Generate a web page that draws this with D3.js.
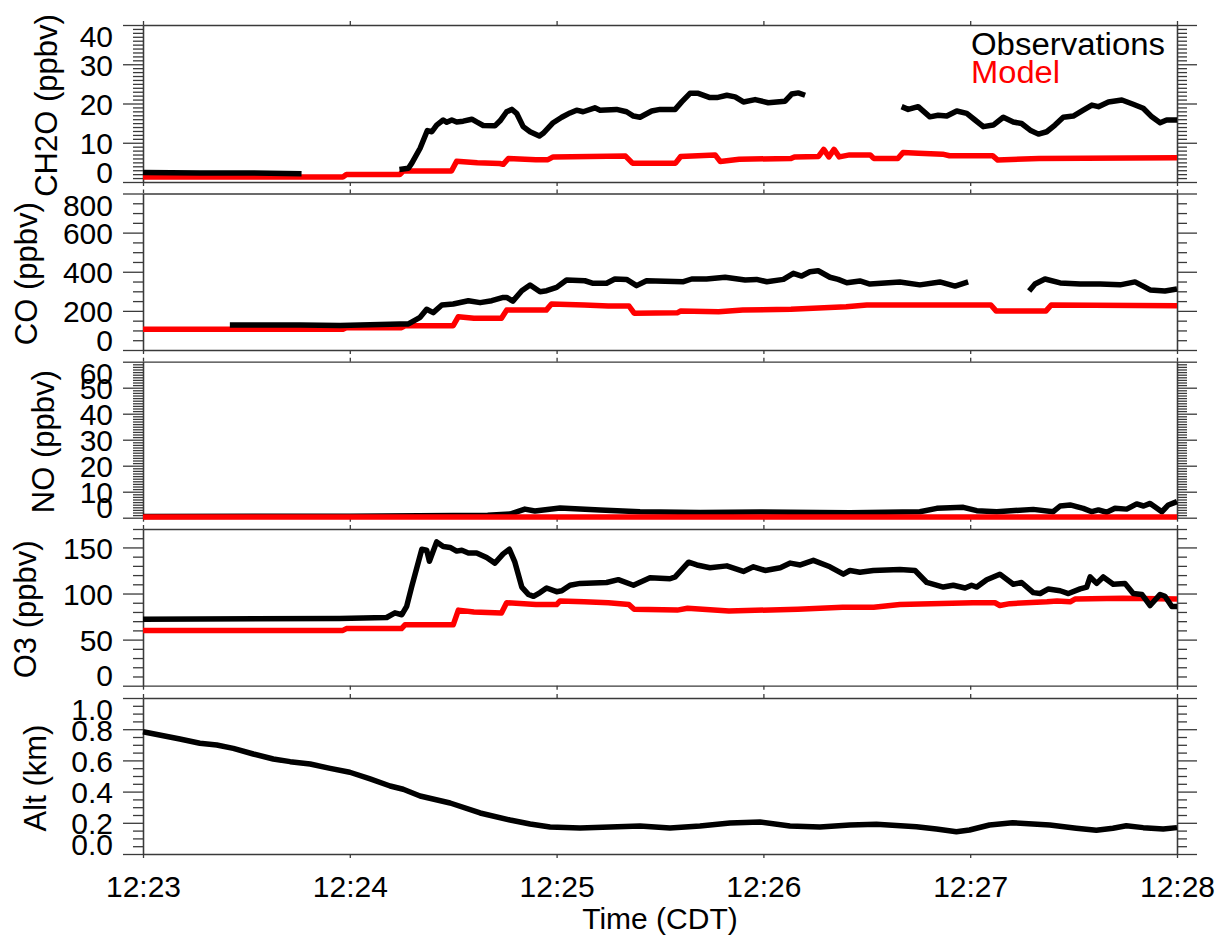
<!DOCTYPE html>
<html><head><meta charset="utf-8">
<script src="https://cdn.jsdelivr.net/npm/d3@7"></script>
<style>body{margin:0;background:#fff}svg{display:block}text{font-family:"Liberation Sans",Arial,sans-serif}</style>
</head><body><svg id="c" width="1226" height="938"></svg>
<script>
// ---------- data (time = seconds after 12:23:00) ----------
const xTickSeconds = [0, 60, 120, 180, 240, 300];
const xTickLabels = ["12:23", "12:24", "12:25", "12:26", "12:27", "12:28"];

const ch2oObsT = [0,16.5,31,46,47, 74.4,77,78,80.4,82.5,83.8,85.2,87.1,88.1,89.6,91,92.9,95.4,96.8,98.7,102.1,103.6,105.5,107,108.4,110.3,112.3,115,116.1,119,121.5,123.9,125.8,127.7,131.1,132.6,137.4,140.3,142.3,144.2,147.6,150,154.4,156.3,158.7,161.1,164.5,166.5,169.4,171.8,174.2,177.6,181.4,186.3,188.2,190.1,192.1,193, 220.1,222,224.9,228.3,230.7,233.2,236.1,239,241.4,243.8,246.7,249.6,252.5,254.9,257.4,259.8,262.2,264.6,267,269.9,272.8,275.3,277.2,280.1,284,287.3,290.2,292.7,295.1,297,300];
const ch2oObsV = [2.4,2.3,2.3,2.1,null, 3.2,3.5,4.8,8.6,13.1,12.8,14.5,15.8,15.2,15.8,15.3,15.5,16.0,15.3,14.4,14.3,15.6,17.9,18.5,17.5,14.1,12.8,11.7,12.4,15.1,16.5,17.6,18.3,17.9,18.9,18.3,18.5,17.9,16.8,16.5,18.1,18.5,18.5,20.4,22.6,22.6,21.5,21.5,22.1,21.7,20.4,21.0,20.2,20.6,22.4,22.7,22.1,null, 19.2,18.5,19.2,16.6,17.0,16.8,18.1,17.5,15.8,14.1,14.5,16.5,15.3,14.9,13.2,12.2,12.8,14.5,16.5,16.8,18.3,19.6,19.2,20.4,20.9,19.8,18.8,16.6,15.1,15.8,15.8];
const ch2oModT = [0,58,59,74.5,75.5,89.5,91,97,103.5,104.5,106,114,117.5,119,140,142,154.5,156,166,167.5,173,188,189,196,197.5,199,200.5,202,205,211,212,219,220.5,225,232,234,246.5,248,260,300];
const ch2oModV = [1.3,1.3,1.9,1.9,2.8,2.8,5.3,4.9,4.7,4.5,6.0,5.7,5.7,6.4,6.6,4.8,4.8,6.5,6.9,5.2,5.8,6.0,6.4,6.5,8.3,6.4,8.3,6.4,6.9,6.9,6.0,6.0,7.5,7.3,7.1,6.7,6.7,5.6,6.0,6.2];

const coObsT = [25.2,45.6,57.2,74.6,77,80.4,82.3,84.2,86.7,90,94.4,97.8,101.2,104.5,105.5,107.3,109.9,112.3,115.2,117.1,120,122.9,128.2,130.6,134.5,136.9,140.3,143.2,146.1,156.8,159.2,163.5,168.9,174.7,178,181,185.8,188.7,191.1,193.5,195.9,199.3,201.7,204.2,208,210.9,219.6,225.4,231.2,235.6,239.4,240, 257.1,258.8,261.7,266.1,271.9,277.7,283.5,287.8,292.2,296.5,300];
const coObsV = [128,128,125,133,133,167,208,191,230,235,252,242,252,269,269,250,303,332,298,303,320,358,354,341,341,363,361,329,354,349,363,363,372,358,361,349,361,392,378,400,405,372,361,344,353,337,348,333,348,327,348,null, 302,337,363,343,337,337,333,348,307,302,312];
const coModT = [0,58,59,75,76,90,91.5,96,104,105.5,117,118.5,128,135,141,142.5,155,156,167,174,188,204,210,246,247.5,262,263.5,300];
const coModV = [106,106,114,114,124,124,170,162,162,204,204,235,230,225,225,188,190,199,196,204,208,221,230,230,200,200,230,226];

const noObsT = [0,60,100,106.5,110.8,113.7,121,126.8,132.6,144.2,161.6,179,196.4,205.1,225.4,230.3,238,241.9,247.7,258.3,264.1,266.1,269,272.8,275.3,277.2,279.6,282,285.4,288.3,290.3,292.2,295.6,297.5,300];
const noObsV = [0.5,0.6,0.9,1.4,3.3,2.6,3.7,3.3,3.0,2.3,2.0,2.2,2.0,1.9,2.3,3.6,4.0,2.7,2.3,3.2,2.3,4.5,4.9,3.6,2.3,3.0,2.1,3.6,3.3,5.3,4.5,5.5,2.3,4.9,6.2];
const noModT = [0,300];
const noModV = [0.3,0.3];

const o3ObsT = [0,57,70.7,73.1,75.1,76.5,78,80.9,82.3,83.1,85.2,87.1,89.1,91,92.5,94.4,96.8,99.7,102.1,104.5,106.3,107.9,109.9,111.8,113.3,115.2,117.1,120,121.5,123.9,126.8,134.5,137.9,142.3,147.1,152.9,154.4,158.3,160.7,164.5,169.4,174.2,177.1,180.5,184.9,187.8,190.7,194.5,199.3,203.2,205.1,208,211.9,219.6,224,227.4,232.2,235.1,238.5,240.4,241.9,244.8,248.6,252.5,254.9,258.3,260.3,262.7,266.1,268.5,271.9,273.8,274.8,276.7,278.6,281.5,284.9,287.3,289.8,292.2,295.1,296.5,298.5,300];
const o3ObsV = [72,73,74,79,77,86,108,148,147,135,156,151,150,146,147,144,144,139,133,143,148,134,107,99,97,101,106,102,103,109,111,112,115,109,117,116,118,134,131,128,130,124,129,125,128,133,131,136,129,121,125,123,125,126,125,112,107,109,106,109,107,115,121,110,112,101,100,105,103,100,105,107,118,111,118,110,111,100,99,87,99,97,86,86];
const o3ModT = [0,58,59,75,76,90,91.5,96,104,105.5,114,120,121,128,135,141,142.5,155,158,170,190,203,212,219.6,240.8,247.2,248.6,251.5,262.3,265.2,269,270.4,284.3,300];
const o3ModV = [60,60,62,62,66,66,82,80,79,90,88,88,92,91,90,88,83,82,84,81,83,85,85,88,90,90,87,89,91,92,91,94,95,94];

const altT = [0,10.7,16.5,21.4,26.2,32,37.8,42.7,48.5,54.3,60,65.9,71.7,75.5,80.4,89.1,97.8,106.5,112.3,118.1,126.8,135.5,144.2,152.9,161.6,170.3,179,187.7,196.4,205.1,212.8,224.4,230.2,236,239.8,245.6,252.3,263.1,270.8,276.6,281.4,285.3,290.2,296,300];
const altV = [0.784,0.737,0.71,0.699,0.677,0.641,0.609,0.592,0.577,0.549,0.524,0.481,0.436,0.415,0.372,0.327,0.263,0.218,0.192,0.173,0.167,0.173,0.179,0.167,0.179,0.199,0.205,0.179,0.173,0.186,0.19,0.175,0.16,0.143,0.154,0.186,0.2,0.186,0.165,0.152,0.165,0.181,0.169,0.16,0.169];

const legendLabels = ["Observations", "Model"];
const legendColors = ["#000000", "#ff0000"];

// ---------- layout ----------
const svg = d3.select("#c");
const X0 = 143, X1 = 1177;
const x = d3.scaleLinear().domain([0, 300]).range([X0, X1]);
const FS = 30;
const zip = (t, v) => t.map((d, i) => ({t: d, v: v[i]}));

const panels = [
  {title: "CH2O (ppbv)", top: 25, bottom: 182, domain: [0, 40], major: 10, minor: 1, titleX: 57, fmt: d3.format("d"),
   series: [{d: zip(ch2oModT, ch2oModV), c: "#ff0000"}, {d: zip(ch2oObsT, ch2oObsV), c: "#000"}]},
  {title: "CO (ppbv)", top: 193.5, bottom: 350, domain: [0, 800], major: 200, minor: 50, titleX: 37, fmt: d3.format("d"),
   series: [{d: zip(coModT, coModV), c: "#ff0000"}, {d: zip(coObsT, coObsV), c: "#000"}]},
  {title: "NO (ppbv)", top: 361.7, bottom: 517.7, domain: [0, 60], major: 10, minor: 1, titleX: 54, fmt: d3.format("d"),
   series: [{d: zip(noObsT, noObsV), c: "#000"}, {d: zip(noModT, noModV), c: "#ff0000"}]},
  {title: "O3 (ppbv)", top: 529, bottom: 685.7, domain: [0, 170], major: 50, minor: 10, titleX: 36, fmt: d3.format("d"),
   series: [{d: zip(o3ModT, o3ModV), c: "#ff0000"}, {d: zip(o3ObsT, o3ObsV), c: "#000"}]},
  {title: "Alt (km)", top: 698, bottom: 854, domain: [0, 1], major: 0.2, minor: 0.05, titleX: 46, fmt: d3.format(".1f"),
   series: [{d: zip(altT, altV), c: "#000"}]},
];

const AX = "#3a3a3a";
function styleAxis(g) {
  g.selectAll("path.domain").attr("stroke", AX).attr("stroke-width", 1.3);
  g.selectAll(".tick line").attr("stroke", AX).attr("stroke-width", 1.3);
  g.attr("font-family", null).attr("font-size", null);
}
function ticksFor(dom, step) {
  const n = Math.round((dom[1] - dom[0]) / step);
  return d3.range(n + 1).map(i => +(dom[0] + i * step).toFixed(6));
}

panels.forEach((p, pi) => {
  const y = d3.scaleLinear().domain(p.domain).range([p.bottom, p.top]);
  const majors = ticksFor([p.domain[0], Math.floor(p.domain[1] / p.major + 1e-9) * p.major], p.major);
  const minors = ticksFor(p.domain, p.minor).filter(v => !majors.some(m => Math.abs(m - v) < 1e-9));

  const gml = svg.append("g").attr("transform", `translate(${X0},0)`)
    .call(d3.axisLeft(y).tickValues(minors).tickSize(10).tickSizeOuter(0).tickFormat(""));
  styleAxis(gml);
  const gmr = svg.append("g").attr("transform", `translate(${X1},0)`)
    .call(d3.axisRight(y).tickValues(minors).tickSize(10).tickSizeOuter(0).tickFormat(""));
  styleAxis(gmr);
  const gl = svg.append("g").attr("transform", `translate(${X0},0)`)
    .call(d3.axisLeft(y).tickValues(majors).tickSize(20).tickSizeOuter(0).tickPadding(10).tickFormat(p.fmt));
  styleAxis(gl);
  gl.selectAll(".tick text")
    .attr("font-size", FS).attr("fill", "#000").attr("dy", null)
    .each(function(d) {
      const ty = y(d);
      const half = 10.8;
      const cy = Math.max(p.top + half, Math.min(p.bottom - half, ty));
      d3.select(this).attr("y", cy - ty + 10.8);
    });
  const gr = svg.append("g").attr("transform", `translate(${X1},0)`)
    .call(d3.axisRight(y).tickValues(majors).tickSize(20).tickSizeOuter(0).tickFormat(""));
  styleAxis(gr);

  const gt = svg.append("g").attr("transform", `translate(0,${p.top})`)
    .call(d3.axisTop(x).tickValues(xTickSeconds).tickSize(4).tickSizeOuter(0).tickFormat(""));
  styleAxis(gt);
  const gb = svg.append("g").attr("transform", `translate(0,${p.bottom})`)
    .call(d3.axisBottom(x).tickValues(xTickSeconds).tickSize(4).tickSizeOuter(0)
      .tickFormat((d, i) => pi === panels.length - 1 ? xTickLabels[i] : ""));
  styleAxis(gb);
  if (pi === panels.length - 1) {
    gb.selectAll(".tick text").attr("font-size", FS).attr("fill", "#000")
      .attr("dy", null).attr("y", 897 - p.bottom);
  }

  const line = d3.line().defined(d => d.v != null).x(d => x(d.t)).y(d => y(d.v));
  p.series.forEach(s => {
    svg.append("path").datum(s.d).attr("d", line).attr("fill", "none")
      .attr("stroke", s.c).attr("stroke-width", 5.5).attr("stroke-linejoin", "round").attr("stroke-linecap", "butt");
  });

  svg.append("text").attr("transform", `translate(${p.titleX},${(p.top + p.bottom) / 2 + 2}) rotate(-90)`)
    .attr("text-anchor", "middle").attr("font-size", 31).attr("fill", "#000").text(p.title);
});

svg.append("text").attr("x", 660).attr("y", 929).attr("text-anchor", "middle")
  .attr("font-size", FS).attr("fill", "#000").text("Time (CDT)");

legendLabels.forEach((l, i) => {
  svg.append("text").attr("x", 971).attr("y", 55 + i * 28).attr("font-size", 31)
    .attr("fill", legendColors[i]).attr("textLength", i === 0 ? 194 : 89).attr("lengthAdjust", "spacingAndGlyphs").text(l);
});
</script></body></html>
